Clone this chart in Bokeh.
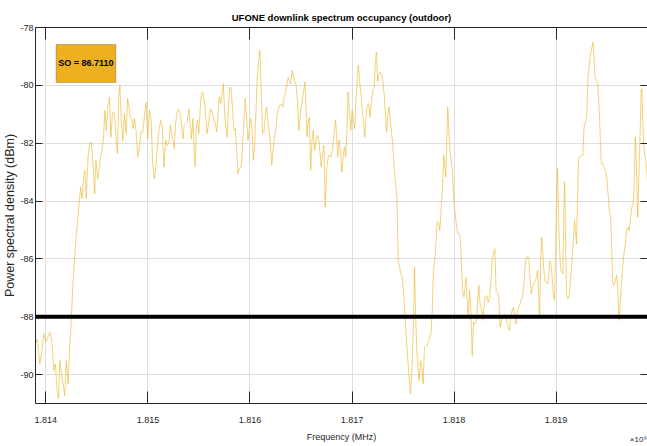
import numpy as np
from bokeh.plotting import figure
from bokeh.models import (Range1d, LinearAxis, FixedTicker, CustomJSTickFormatter,
                          Span, BoxAnnotation, Label)
from bokeh.embed import file_html
from bokeh.resources import INLINE

# ---------------- data ----------------
title_text = "UFONE downlink spectrum occupancy (outdoor)"
x_label = "Frequency (MHz)"
y_label = "Power spectral density (dBm)"
x_exponent_label = "\u00d710\u2079"
x_ticks_ghz = [1.814, 1.815, 1.816, 1.817, 1.818, 1.819]
y_ticks = [-90, -88, -86, -84, -82, -80, -78]
x_limits_mhz = [1813.8985, 1819.8956]
y_limits = [-91, -78]
threshold_dbm = -88
so_value = 86.7110

freq_mhz = [
    1813.899, 1813.915, 1813.941, 1813.961, 1813.980, 1814.000, 1814.019, 1814.039, 1814.058, 1814.078,
    1814.094, 1814.110, 1814.123, 1814.136, 1814.152, 1814.169, 1814.185, 1814.201, 1814.218, 1814.234,
    1814.250, 1814.266, 1814.283, 1814.299, 1814.315, 1814.331, 1814.341, 1814.354, 1814.370, 1814.383,
    1814.396, 1814.413, 1814.429, 1814.445, 1814.461, 1814.478, 1814.491, 1814.507, 1814.520, 1814.536,
    1814.552, 1814.565, 1814.578, 1814.592, 1814.608, 1814.624, 1814.637, 1814.653, 1814.666, 1814.679,
    1814.692, 1814.702, 1814.715, 1814.725, 1814.738, 1814.754, 1814.770, 1814.787, 1814.800, 1814.813,
    1814.826, 1814.842, 1814.855, 1814.868, 1814.884, 1814.900, 1814.917, 1814.933, 1814.949, 1814.965,
    1814.982, 1814.998, 1815.014, 1815.031, 1815.047, 1815.063, 1815.079,
    1815.092, 1815.109, 1815.125, 1815.141, 1815.157, 1815.174, 1815.190, 1815.206, 1815.219, 1815.232,
    1815.245, 1815.258, 1815.271, 1815.284, 1815.297, 1815.313, 1815.330, 1815.343, 1815.356, 1815.369,
    1815.385, 1815.401, 1815.414, 1815.427, 1815.440, 1815.453, 1815.463, 1815.473, 1815.486, 1815.499,
    1815.512, 1815.525, 1815.538, 1815.554, 1815.567, 1815.580, 1815.596, 1815.613, 1815.629, 1815.645,
    1815.661, 1815.674, 1815.687, 1815.700, 1815.713, 1815.726, 1815.739, 1815.752, 1815.765, 1815.778,
    1815.791, 1815.804, 1815.817, 1815.830, 1815.843, 1815.856, 1815.869, 1815.882, 1815.895, 1815.915,
    1815.928, 1815.941, 1815.954, 1815.967, 1815.980, 1815.993, 1816.006, 1816.019, 1816.032, 1816.045,
    1816.058, 1816.071, 1816.084, 1816.097, 1816.110, 1816.123, 1816.136, 1816.149, 1816.162, 1816.175,
    1816.188, 1816.201, 1816.214, 1816.227, 1816.240, 1816.253, 1816.266, 1816.279,
    1816.292, 1816.309, 1816.322, 1816.335, 1816.348, 1816.361, 1816.374, 1816.387, 1816.400, 1816.413,
    1816.426, 1816.439, 1816.452, 1816.465, 1816.478, 1816.491, 1816.504, 1816.517, 1816.530, 1816.539,
    1816.549, 1816.559, 1816.569, 1816.582, 1816.595, 1816.608, 1816.621, 1816.634, 1816.647, 1816.660,
    1816.673, 1816.686, 1816.699, 1816.712, 1816.725, 1816.738, 1816.751, 1816.764, 1816.777, 1816.790,
    1816.803, 1816.816, 1816.829, 1816.839, 1816.848, 1816.861, 1816.874, 1816.887, 1816.900, 1816.913,
    1816.926, 1816.939, 1816.952, 1816.962, 1816.975, 1816.988, 1817.001, 1817.014, 1817.027, 1817.040,
    1817.053, 1817.063, 1817.076, 1817.089, 1817.102, 1817.115, 1817.125, 1817.138, 1817.151, 1817.164,
    1817.177, 1817.190, 1817.203, 1817.216, 1817.229, 1817.239, 1817.252, 1817.265, 1817.278, 1817.291,
    1817.304, 1817.317, 1817.330, 1817.339, 1817.352, 1817.362, 1817.375, 1817.388, 1817.401, 1817.414,
    1817.427, 1817.440, 1817.453, 1817.466, 1817.479,
    1817.492, 1817.509, 1817.522, 1817.535, 1817.548, 1817.561, 1817.574, 1817.587, 1817.600, 1817.613,
    1817.622, 1817.635, 1817.648, 1817.658, 1817.671, 1817.684, 1817.697, 1817.710, 1817.723, 1817.736,
    1817.749, 1817.762, 1817.775, 1817.788, 1817.798, 1817.811, 1817.824, 1817.834, 1817.847, 1817.860,
    1817.873, 1817.886, 1817.899, 1817.909, 1817.918, 1817.928, 1817.938, 1817.948, 1817.957, 1817.970,
    1817.983, 1817.996, 1818.009, 1818.022, 1818.035, 1818.048, 1818.061, 1818.074, 1818.087, 1818.097,
    1818.107, 1818.117, 1818.126, 1818.139, 1818.152, 1818.165, 1818.178, 1818.191, 1818.204, 1818.217,
    1818.230, 1818.243, 1818.256, 1818.269, 1818.282, 1818.295, 1818.308, 1818.321, 1818.334, 1818.347,
    1818.360, 1818.373, 1818.386, 1818.399, 1818.412, 1818.425, 1818.438, 1818.451, 1818.465, 1818.478,
    1818.490, 1818.503, 1818.516, 1818.529, 1818.543, 1818.556, 1818.569, 1818.582, 1818.595, 1818.608,
    1818.621, 1818.634, 1818.647, 1818.660, 1818.673,
    1818.689, 1818.702, 1818.715, 1818.731, 1818.744, 1818.757, 1818.770, 1818.783, 1818.796, 1818.809,
    1818.819, 1818.829, 1818.839, 1818.848, 1818.858, 1818.868, 1818.878, 1818.891, 1818.904, 1818.917,
    1818.930, 1818.939, 1818.949, 1818.962, 1818.975, 1818.985, 1818.995, 1819.005, 1819.014, 1819.024,
    1819.034, 1819.044, 1819.057, 1819.066, 1819.076, 1819.083, 1819.092, 1819.102, 1819.115, 1819.128,
    1819.141, 1819.154, 1819.167, 1819.180, 1819.190, 1819.200, 1819.209, 1819.219, 1819.232, 1819.245,
    1819.261, 1819.274, 1819.287, 1819.300, 1819.313, 1819.326, 1819.339, 1819.352, 1819.362, 1819.372,
    1819.382, 1819.395, 1819.408, 1819.421, 1819.434, 1819.444, 1819.457, 1819.470, 1819.483, 1819.496,
    1819.509, 1819.522, 1819.535, 1819.544, 1819.554, 1819.567, 1819.580, 1819.593, 1819.606, 1819.616,
    1819.626, 1819.639, 1819.652, 1819.665, 1819.678, 1819.691, 1819.704, 1819.717, 1819.730, 1819.743,
    1819.756, 1819.766, 1819.776, 1819.785, 1819.795, 1819.801, 1819.814, 1819.824, 1819.834, 1819.840,
    1819.850, 1819.860, 1819.873, 1819.886, 1819.896,
]

psd_dbm = [
    -88.94, -88.77, -89.63, -89.17, -88.59, -88.88, -88.71, -88.54, -88.82, -89.86,
    -89.63, -90.55, -90.84, -89.52, -89.98, -90.32, -90.73, -89.52, -90.32, -89.05,
    -88.02, -86.86, -85.94, -85.13, -84.56, -83.86, -83.52, -83.92, -83.17, -82.94,
    -83.92, -82.48, -82.02, -81.96, -82.71, -83.75, -82.60, -83.23, -82.94, -82.48,
    -82.19, -81.79, -80.87, -81.56, -80.75, -80.40, -81.79, -80.98, -80.92, -81.27,
    -82.02, -82.36, -80.40, -80.00, -81.15, -81.90, -80.98, -81.67, -80.46, -80.69,
    -81.10, -81.15, -81.50, -81.15, -81.56, -82.48, -82.13, -81.61, -81.61, -81.10,
    -80.58, -81.85, -80.87, -81.15, -82.71, -83.23, -82.77,
    -82.13, -81.56, -81.21, -81.44, -82.83, -81.90, -82.08, -81.96, -81.38, -81.67,
    -81.90, -82.19, -81.33, -80.98, -80.81, -80.92, -81.38, -81.85, -81.38, -81.33,
    -81.27, -80.81, -81.33, -81.85, -81.15, -82.25, -82.83, -81.56, -81.21, -81.67,
    -80.87, -80.29, -80.23, -80.58, -81.10, -81.67, -81.27, -80.81, -80.92, -81.15,
    -81.33, -81.61, -80.98, -80.40, -80.63, -80.35, -79.94, -80.98, -81.50, -81.79,
    -80.58, -80.06, -80.17, -80.87, -81.56, -81.50, -82.13, -83.06, -82.88, -82.83,
    -82.02, -81.21, -80.46, -81.10, -81.90, -81.56, -81.15, -81.38, -82.60, -82.13,
    -80.98, -79.71, -79.25, -78.79, -80.06, -81.67, -81.61, -81.10, -80.75, -81.21,
    -81.56, -82.02, -82.77, -82.19, -81.79, -81.56, -81.04, -80.81,
    -80.69, -80.63, -80.75, -80.40, -80.23, -80.00, -79.71, -79.83, -79.94, -79.48,
    -79.65, -79.88, -80.00, -80.52, -81.56, -81.10, -80.75, -80.40, -80.12, -79.88,
    -80.69, -81.79, -81.33, -81.10, -82.94, -81.90, -81.56, -82.25, -81.90, -81.73,
    -81.85, -82.31, -82.83, -82.36, -82.08, -84.21, -82.94, -82.54, -82.42, -82.48,
    -82.31, -81.96, -81.56, -81.21, -81.67, -82.48, -81.90, -82.25, -83.00, -82.48,
    -82.13, -82.48, -81.33, -80.23, -80.87, -81.56, -80.87, -81.21, -81.50, -80.40,
    -79.71, -79.31, -79.94, -80.29, -80.98, -81.33, -81.79, -81.04, -80.69, -80.63,
    -81.10, -80.63, -80.17, -80.12, -79.19, -78.85, -79.88, -79.60, -79.54, -79.65,
    -79.88, -80.40, -81.10, -81.61, -80.98, -80.75, -81.21, -81.67, -82.08, -82.94,
    -83.40, -83.86, -86.06, -86.29, -86.52,
    -86.63, -87.32, -88.13, -88.94, -89.52, -90.21, -90.67, -89.75, -88.48, -86.29,
    -87.79, -89.17, -89.86, -90.21, -89.52, -89.75, -90.32, -89.05, -89.00, -89.00,
    -88.88, -88.71, -88.54, -87.67, -86.40, -86.06, -85.36, -84.73, -84.73, -85.02,
    -84.33, -83.52, -82.42, -82.83, -83.17, -82.02, -80.75, -81.44, -82.13, -82.54,
    -82.94, -83.86, -84.38, -84.79, -85.13, -85.13, -85.25, -86.40, -87.21, -87.32,
    -86.98, -86.63, -87.32, -87.96, -87.09, -87.79, -89.34, -88.19, -88.25, -88.19,
    -87.55, -86.92, -87.61, -87.73, -88.13, -87.55, -87.32, -87.27, -87.50, -87.38,
    -86.86, -86.06, -85.77, -85.65, -87.09, -87.15, -87.32, -88.36, -88.13, -88.02,
    -87.96, -87.90, -88.13, -88.36, -88.48, -88.02, -87.79, -87.67, -88.02, -88.25,
    -87.79, -87.67, -87.55, -87.38, -87.32,
    -86.63, -86.06, -85.92, -85.94, -86.63, -87.21, -86.98, -86.86, -86.75, -86.63,
    -86.40, -87.32, -88.02, -86.17, -85.25, -85.71, -86.29, -86.75, -86.81, -86.86,
    -86.52, -86.06, -86.17, -86.63, -87.32, -87.44, -85.71, -83.86, -82.88, -84.56,
    -85.59, -86.40, -86.46, -86.52, -84.33, -83.34, -85.02, -87.21, -87.38, -87.27,
    -86.75, -86.17, -85.48, -84.67, -85.02, -85.48, -84.09, -82.54, -82.48, -82.42,
    -82.42, -81.44, -81.27, -81.04, -79.71, -79.25, -78.90, -78.67, -78.50, -79.02,
    -79.71, -79.83, -79.94, -80.75, -81.90, -82.71, -82.71, -82.83, -82.94, -83.17,
    -83.75, -84.33, -84.50, -85.48, -86.86, -86.92, -86.75, -86.57, -87.09, -88.13,
    -87.67, -86.86, -86.29, -85.82, -85.48, -85.02, -84.90, -85.02, -84.56, -84.21,
    -84.09, -83.17, -81.79, -82.48, -83.98, -84.56, -82.71, -81.56, -80.17, -80.12,
    -81.33, -82.13, -82.48, -82.83, -83.40,
]

# ---------------- styling ----------------
FONT = "'Liberation Sans', Arial, sans-serif"
TXT = "#262626"
LINE_COLOR = "#EDB120"
GRID = "#dedede"

freq_hz = np.array(freq_mhz) * 1e6
x_ticks_hz = [t * 1e9 for t in x_ticks_ghz]
x_lo, x_hi = x_limits_mhz[0] * 1e6, x_limits_mhz[1] * 1e6

p = figure(width=647, height=446, output_backend="svg", toolbar_location=None,
           x_range=Range1d(x_lo, x_hi), y_range=Range1d(y_limits[0], y_limits[1]),
           min_border_left=32, min_border_right=0, min_border_top=27, min_border_bottom=43,
           title=title_text)
p.background_fill_color = "white"
p.border_fill_color = "white"
p.outline_line_color = None

p.title.align = "center"
p.title.text_font = FONT
p.title.text_font_size = "9.5px"
p.title.text_font_style = "bold"
p.title.text_color = "black"
p.title.standoff = 9

xticker = FixedTicker(ticks=x_ticks_hz)
yticker = FixedTicker(ticks=y_ticks)
xfmt = CustomJSTickFormatter(code="return (tick / 1e9).toFixed(3);")
yfmt = CustomJSTickFormatter(code="return tick.toFixed(0);")


def style_axis(ax, tick_in, show_labels=True):
    ax.axis_line_color = TXT
    ax.axis_line_width = 1
    ax.major_tick_line_color = TXT
    ax.major_tick_in = tick_in
    ax.major_tick_out = 0
    ax.minor_tick_in = 0
    ax.minor_tick_out = 0
    ax.minor_tick_line_color = None
    ax.major_label_text_font = FONT
    if show_labels:
        ax.major_label_text_font_size = "9px"
        ax.major_label_text_color = TXT
    else:
        ax.major_label_text_font_size = "0px"
        ax.major_label_text_color = None
        ax.major_label_standoff = 0


xb = p.xaxis[0]
xb.ticker = xticker
xb.formatter = xfmt
style_axis(xb, 12)
xb.major_label_standoff = 13
xb.axis_label = x_label
xb.axis_label_text_font = FONT
xb.axis_label_text_font_size = "9px"
xb.axis_label_text_font_style = "normal"
xb.axis_label_text_color = TXT
xb.axis_label_standoff = 6

yl = p.yaxis[0]
yl.ticker = yticker
yl.formatter = yfmt
style_axis(yl, 7)
yl.major_label_standoff = 2
yl.axis_label = y_label
yl.axis_label_text_font = FONT
yl.axis_label_text_font_size = "12.5px"
yl.axis_label_text_font_style = "normal"
yl.axis_label_text_color = TXT
yl.axis_label_standoff = 0

xt = LinearAxis(ticker=xticker, formatter=xfmt)
style_axis(xt, 12, show_labels=False)
p.add_layout(xt, "above")

yr = LinearAxis(ticker=yticker)
style_axis(yr, 7, show_labels=False)
yr.axis_line_color = None
p.add_layout(yr, "right")

# exponent marker of the frequency axis, at the right end of the axis (MATLAB style)
x_exp_pos = x_lo + (x_hi - x_lo) * 0.985
xe = LinearAxis(ticker=FixedTicker(ticks=[x_exp_pos]),
                formatter=CustomJSTickFormatter(code="return '%s';" % x_exponent_label))
xe.axis_line_color = None
xe.major_tick_line_color = None
xe.minor_tick_line_color = None
xe.major_tick_in = 0
xe.major_tick_out = 0
xe.minor_tick_in = 0
xe.minor_tick_out = 0
xe.major_label_text_font = FONT
xe.major_label_text_font_size = "8px"
xe.major_label_text_color = TXT
xe.major_label_standoff = -10
p.add_layout(xe, "below")

p.xgrid.ticker = xticker
p.ygrid.ticker = yticker
p.xgrid.grid_line_color = GRID
p.ygrid.grid_line_color = GRID
p.xgrid.grid_line_width = 1
p.ygrid.grid_line_width = 1

# spectrum trace
p.line(freq_hz, psd_dbm, line_color=LINE_COLOR, line_width=0.6)

# threshold
p.add_layout(Span(location=threshold_dbm, dimension="width",
                  line_color="black", line_width=4))

# SO box
p.add_layout(BoxAnnotation(left=1814.1005e6, right=1814.686e6, top=-78.588, bottom=-79.90,
                           fill_color=LINE_COLOR, fill_alpha=1.0,
                           line_color="#404040", line_width=1))
p.add_layout(Label(x=1814.393e6, y=-79.244, text=f"SO = {so_value:.4f}",
                   text_align="center", text_baseline="middle",
                   text_font=FONT, text_font_size="9px", text_font_style="bold",
                   text_color="black"))

open("out.html", "w").write(file_html(p, INLINE))
